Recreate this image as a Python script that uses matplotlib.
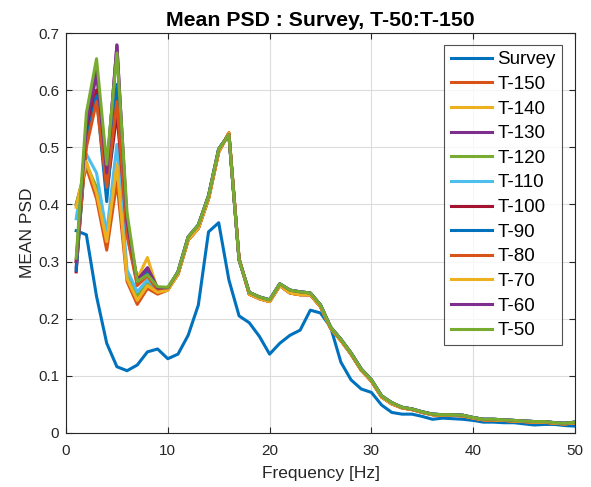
import matplotlib
matplotlib.use("Agg")
import matplotlib.pyplot as plt
import numpy as np

plt.rcParams['font.family'] = ['Liberation Sans', 'DejaVu Sans']

freq = list(range(1, 51))

survey = [0.354, 0.347, 0.239, 0.157, 0.116, 0.109, 0.119, 0.142, 0.147, 0.130,
          0.138, 0.171, 0.224, 0.352, 0.368, 0.268, 0.205, 0.193, 0.169, 0.138,
          0.157, 0.171, 0.180, 0.215, 0.210, 0.185, 0.124, 0.093, 0.077, 0.071,
          0.049, 0.036, 0.033, 0.033, 0.029, 0.024, 0.026, 0.025, 0.024, 0.022,
          0.019, 0.019, 0.018, 0.018, 0.016, 0.014, 0.015, 0.015, 0.013, 0.012]

# shared behaviour of the T-series above 10 Hz
tail_a = [0.282, 0.343, 0.364, 0.415, 0.497, 0.522, 0.303, 0.246, 0.238, 0.233,
          0.261, 0.250, 0.247, 0.245, 0.224, 0.185, 0.164, 0.140, 0.112, 0.093,
          0.065, 0.053, 0.045, 0.042, 0.037, 0.033, 0.032, 0.032, 0.031, 0.027,
          0.024, 0.024, 0.023, 0.022, 0.021, 0.020, 0.020, 0.018, 0.017, 0.019]
tail_b = [0.278, 0.338, 0.358, 0.410, 0.492, 0.525, 0.305, 0.243, 0.235, 0.230,
          0.258, 0.245, 0.242, 0.242, 0.221, 0.183, 0.162, 0.138, 0.110, 0.091,
          0.063, 0.051, 0.044, 0.041, 0.036, 0.032, 0.031, 0.031, 0.030, 0.026,
          0.023, 0.023, 0.022, 0.021, 0.020, 0.019, 0.019, 0.017, 0.016, 0.018]

# first 10 Hz of each T-series
head_t150 = [0.400, 0.465, 0.410, 0.320, 0.440, 0.265, 0.225, 0.253, 0.243, 0.250]
head_t140 = [0.300, 0.520, 0.600, 0.440, 0.600, 0.350, 0.270, 0.307, 0.250, 0.252]
head_t130 = [0.290, 0.530, 0.630, 0.455, 0.679, 0.360, 0.268, 0.289, 0.252, 0.253]
head_t120 = [0.400, 0.470, 0.430, 0.340, 0.470, 0.275, 0.240, 0.262, 0.248, 0.251]
head_t110 = [0.375, 0.488, 0.455, 0.350, 0.505, 0.285, 0.247, 0.268, 0.250, 0.252]
head_t100 = [0.282, 0.520, 0.600, 0.420, 0.560, 0.350, 0.262, 0.280, 0.250, 0.252]
head_t90  = [0.285, 0.510, 0.590, 0.405, 0.610, 0.355, 0.262, 0.282, 0.251, 0.252]
head_t80  = [0.300, 0.500, 0.580, 0.430, 0.580, 0.345, 0.258, 0.275, 0.249, 0.251]
head_t70  = [0.395, 0.475, 0.420, 0.335, 0.470, 0.270, 0.232, 0.258, 0.246, 0.250]
head_t60  = [0.300, 0.540, 0.640, 0.455, 0.679, 0.370, 0.266, 0.289, 0.254, 0.254]
head_t50  = [0.306, 0.560, 0.655, 0.470, 0.665, 0.385, 0.265, 0.277, 0.256, 0.255]

labels = ['Survey', 'T-150', 'T-140', 'T-130', 'T-120', 'T-110', 'T-100',
          'T-90', 'T-80', 'T-70', 'T-60', 'T-50']
series = [survey,
          head_t150 + tail_b, head_t140 + tail_b, head_t130 + tail_a,
          head_t120 + tail_a, head_t110 + tail_a, head_t100 + tail_b,
          head_t90 + tail_a, head_t80 + tail_b, head_t70 + tail_b,
          head_t60 + tail_a, head_t50 + tail_a]

colors = ['#0072BD', '#D95319', '#EDB120', '#7E2F8E', '#77AC30', '#4DBEEE',
          '#A2142F', '#0072BD', '#D95319', '#EDB120', '#7E2F8E', '#77AC30']

fig = plt.figure(figsize=(5.91, 4.87), dpi=100)
ax = fig.add_axes([66/591, 1-433/487, (575-66)/591, (433-33)/487])

for ys, lab, c in zip(series, labels, colors):
    ax.plot(freq, ys, color=c, lw=2.2, label=lab)

ax.set_xlim(0, 50)
ax.set_ylim(0, 0.7)
ax.set_xticks([0, 10, 20, 30, 40, 50])
ax.set_yticks([0, 0.1, 0.2, 0.3, 0.4, 0.5, 0.6, 0.7])
ax.set_yticklabels(['0', '0.1', '0.2', '0.3', '0.4', '0.5', '0.6', '0.7'])
ax.grid(True, color='#dcdcdc', lw=0.8)
ax.set_axisbelow(True)
ax.tick_params(direction='in', length=4, colors='#262626', labelsize=11,
               top=True, right=True, labelcolor='#262626')
ax.tick_params(axis='x', pad=8)
ax.tick_params(axis='y', pad=5)
for s in ax.spines.values():
    s.set_color('#262626')
    s.set_linewidth(0.8)

ax.set_xlabel('Frequency [Hz]', fontsize=12.5, color='#262626', labelpad=6)
ax.set_ylabel('MEAN PSD', fontsize=12.5, color='#262626', labelpad=2)
ax.set_title('Mean PSD : Survey, T-50:T-150', fontsize=15.3, fontweight='bold',
             color='black', pad=5)

leg = ax.legend(loc='upper right', bbox_to_anchor=(562/591, 1-45/487),
                bbox_transform=fig.transFigure, fontsize=13.5, frameon=True,
                fancybox=False, edgecolor='#262626', handlelength=2.2,
                labelspacing=0.40, borderpad=0.33, handletextpad=0.3,
                borderaxespad=0)
leg.get_frame().set_linewidth(0.8)

fig.savefig('out.png', dpi=100)
